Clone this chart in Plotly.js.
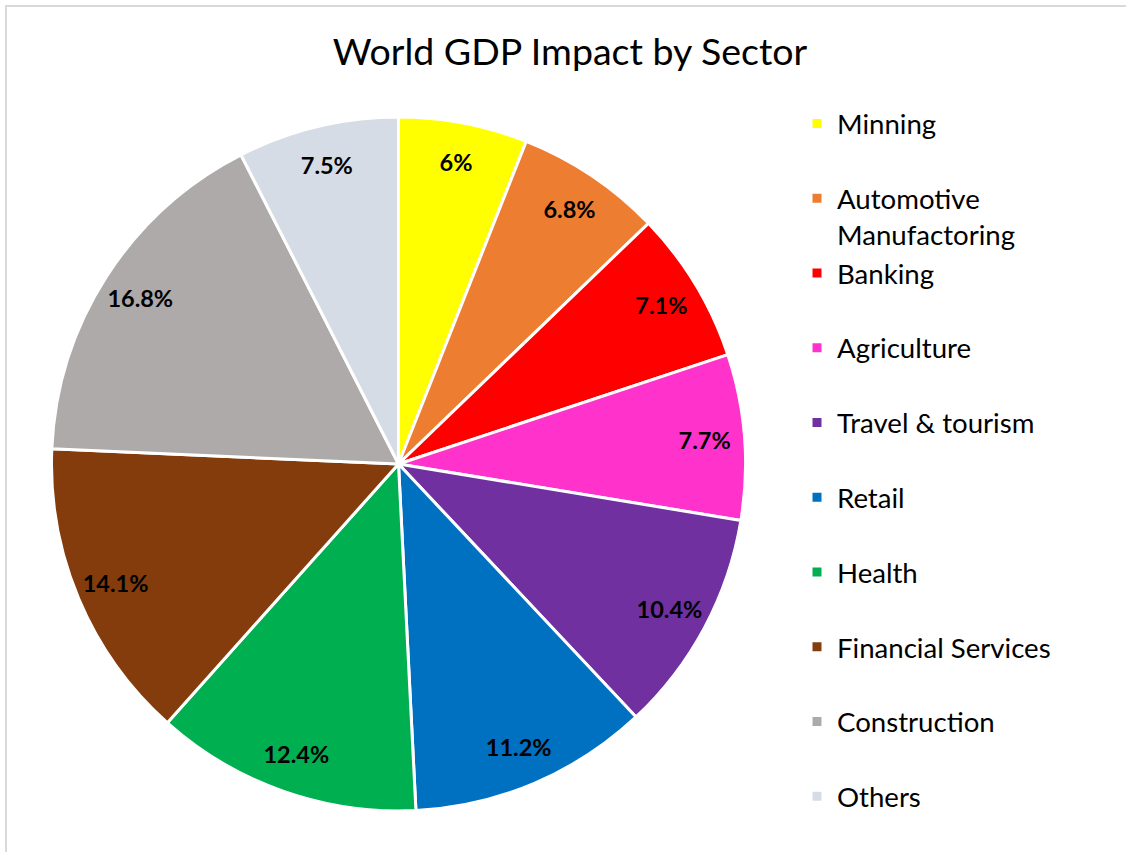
<!DOCTYPE html>
<html>
<head>
<meta charset="utf-8">
<script src="https://cdn.plot.ly/plotly-3.0.1.min.js"></script>
<style>
  html, body { margin: 0; padding: 0; background: #ffffff; }
  #chart { width: 1126px; height: 852px; }
</style>
</head>
<body>
<div id="chart"></div>
<script>
// ---- data ----
const sectors = ["Minning", "Automotive Manufactoring", "Banking", "Agriculture", "Travel & tourism",
                 "Retail", "Health", "Financial Services", "Construction", "Others"];
const shares = [6, 6.8, 7.1, 7.7, 10.4, 11.2, 12.4, 14.1, 16.8, 7.5];
const legendLabels = ["Minning", "Automotive<br>Manufactoring", "Banking", "Agriculture", "Travel & tourism",
                      "Retail", "Health", "Financial Services", "Construction", "Others"];
const sliceColors = ["#FFFF00", "#ED7D31", "#FF0000", "#FF33CC", "#7030A0",
                     "#0070C0", "#00B050", "#843C0C", "#AEAAAA", "#D6DCE5"];
const chartTitle = "World GDP Impact by Sector";

// give every legend entry (except the last) two lines so that spacing is uniform
const legendNames = legendLabels.map((l, i) =>
  (l.indexOf("<br>") >= 0 || i === legendLabels.length - 1) ? l : l + "<br> ");

const W = 1126, H = 852;
const pieDomain = { x: [51.5 / W, 745.5 / W], y: [(H - 811) / H, (H - 117) / H] };

const mainPie = {
  type: "pie",
  labels: legendNames,
  values: shares,
  sort: false,
  direction: "clockwise",
  rotation: 0,
  domain: pieDomain,
  marker: { colors: sliceColors, line: { color: "#ffffff", width: 3 } },
  textinfo: "none",
  hoverinfo: "label+value",
  showlegend: true
};

// transparent ring used only to place the percentage labels near the rim
const labelRing = {
  type: "pie",
  labels: sectors,
  values: shares,
  sort: false,
  direction: "clockwise",
  rotation: 0,
  hole: 0.77,
  domain: pieDomain,
  marker: { colors: sectors.map(() => "rgba(0,0,0,0)"), line: { width: 0 } },
  texttemplate: "<b>%{value}%</b>",
  textposition: "inside",
  insidetextorientation: "horizontal",
  insidetextfont: { family: "Lato, 'Open Sans', sans-serif", size: 23.5, color: "#000000" },
  hoverinfo: "skip",
  showlegend: false
};

const layout = {
  width: W, height: H,
  margin: { l: 0, r: 0, t: 0, b: 0 },
  paper_bgcolor: "#ffffff",
  font: { family: "Lato, 'Open Sans', sans-serif", color: "#000000" },
  title: {
    text: chartTitle,
    font: { family: "Lato, 'Open Sans', sans-serif", size: 37.5, color: "#000000" },
    x: 570 / W, xanchor: "center",
    y: 1 - 52 / H, yanchor: "middle"
  },
  legend: {
    x: 797 / W, xanchor: "left",
    y: 1 - 99 / H, yanchor: "top",
    valign: "top",
    font: { family: "Lato, 'Open Sans', sans-serif", size: 27.6, color: "#000000" },
    bgcolor: "rgba(0,0,0,0)",
    traceorder: "normal"
  },
  shapes: [{
    type: "rect", xref: "paper", yref: "paper",
    x0: 6 / W, x1: 1.05, y0: -0.05, y1: 1 - 6 / H,
    line: { color: "#d9d9d9", width: 2 }, fillcolor: "rgba(0,0,0,0)"
  }]
};

Plotly.newPlot("chart", [mainPie, labelRing], layout, { displayModeBar: false, staticPlot: true });
</script>
</body>
</html>
